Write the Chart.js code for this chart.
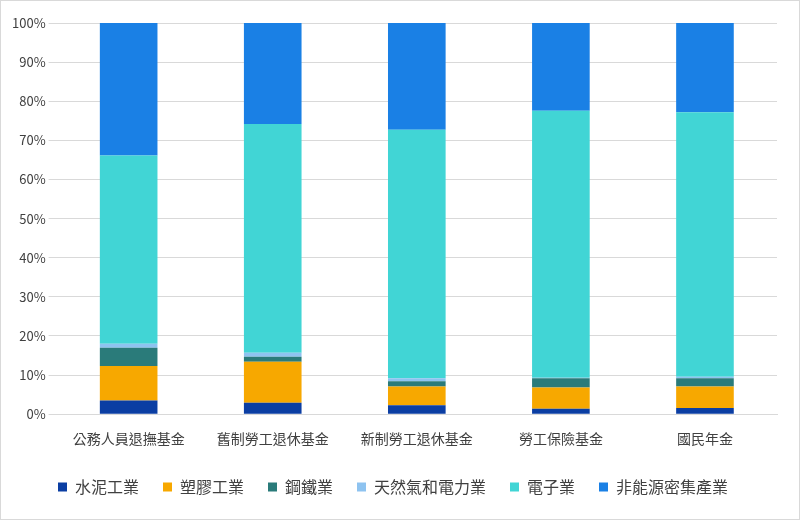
<!DOCTYPE html>
<html><head><meta charset="utf-8">
<script src="https://cdn.jsdelivr.net/npm/chart.js@4"></script>
<style>
html,body{margin:0;padding:0;background:#fff;}
#wrap{position:absolute;left:0;top:0;width:798px;height:518px;border:1px solid #d9d9d9;}
</style></head><body>
<div id="wrap"><canvas id="c"></canvas></div>
<script>
const categories = ['公務人員退撫基金', '舊制勞工退休基金', '新制勞工退休基金', '勞工保險基金', '國民年金'];
const cement = [3.5, 2.9, 2.3, 1.4, 1.6];
const plastics = [8.8, 10.5, 4.8, 5.4, 5.5];
const steel = [4.7, 1.3, 1.3, 2.4, 2.1];
const gasPower = [1.0, 1.0, 0.8, 0.1, 0.4];
const electronics = [48.1, 58.5, 63.5, 68.3, 67.6];
const nonEnergy = [33.9, 25.8, 27.3, 22.5, 22.8];
const yTicks = [0, 10, 20, 30, 40, 50, 60, 70, 80, 90, 100];

const font = "'Noto Sans CJK TC', 'Noto Sans', sans-serif";
function ds(label, data, color) {
  return { label, data, backgroundColor: color, borderWidth: 0,
           barPercentage: 0.8, categoryPercentage: 0.5 };
}
new Chart(document.getElementById('c'), {
  type: 'bar',
  data: {
    labels: categories,
    datasets: [
      ds('水泥工業', cement, '#0b3ea3'),
      ds('塑膠工業', plastics, '#f7a800'),
      ds('鋼鐵業', steel, '#2a7b7a'),
      ds('天然氣和電力業', gasPower, '#8ec3f0'),
      ds('電子業', electronics, '#41d5d5'),
      ds('非能源密集產業', nonEnergy, '#1a80e5')
    ]
  },
  options: {
    responsive: true, maintainAspectRatio: false, animation: false,
    layout: { padding: { left: 8, right: 22, top: 22, bottom: 14 } },
    plugins: {
      legend: { position: 'bottom',
        labels: { boxWidth: 9, boxHeight: 9, padding: 24, color: '#404040', font: { family: font, size: 16 } } },
      tooltip: { enabled: false }
    },
    scales: {
      x: { stacked: true, grid: { display: false }, border: { color: '#d9d9d9' },
           ticks: { color: '#404040', font: { family: font, size: 14 }, padding: 8 } },
      y: { stacked: true, min: 0, max: 100,
           afterBuildTicks: ax => { ax.ticks = yTicks.map(v => ({ value: v })); },
           grid: { color: '#d9d9d9' }, border: { display: false },
           ticks: { color: '#404040', font: { family: font, size: 13 }, callback: v => v + '%' } }
    }
  }
});
</script>
</body></html>
